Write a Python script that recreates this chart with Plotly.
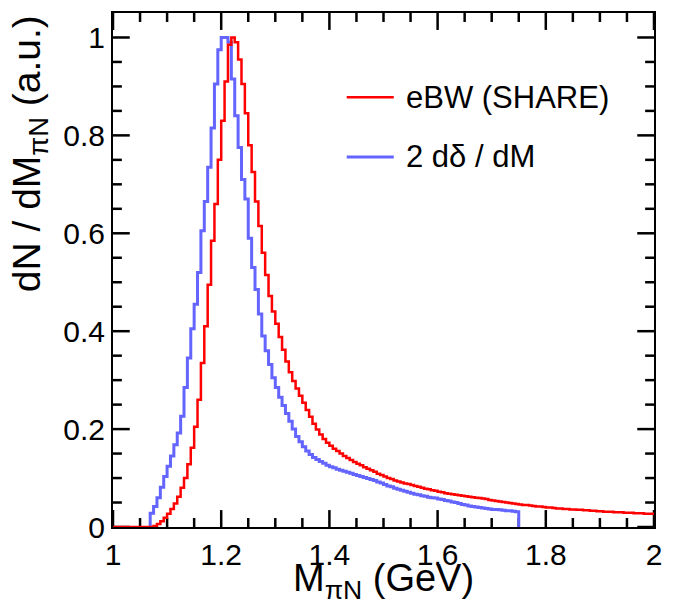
import plotly.graph_objects as go

# ---------------- data ----------------
BIN_WIDTH = 0.00625          # GeV, histogram bin width
RED_FIRST_EDGE = 1.0         # lower edge of first red bin
BLUE_FIRST_EDGE = 1.06875    # lower edge of first blue bin

red_name = "eBW (SHARE)"
blue_name = "2 d\u03b4 / dM"

red_values = [
    0, 0, 0, 0, 0, 0, 0, 0, 0, 0, 0, 0,
    0.002, 0.006, 0.012, 0.019, 0.027, 0.037, 0.048, 0.062, 0.080, 0.100,
    0.128, 0.162, 0.205, 0.26, 0.335, 0.41, 0.495, 0.585, 0.66, 0.75,
    0.83, 0.91, 0.985, 1.0, 0.99, 0.955, 0.905, 0.845, 0.78, 0.725,
    0.665, 0.615, 0.56, 0.515, 0.472, 0.440, 0.415, 0.388, 0.362, 0.338,
    0.316, 0.298, 0.283, 0.268, 0.254, 0.239, 0.225, 0.211, 0.199, 0.189,
    0.180, 0.172, 0.166, 0.160, 0.155, 0.150, 0.145, 0.141, 0.137, 0.133,
    0.129, 0.126, 0.122, 0.119, 0.116, 0.113, 0.109, 0.106, 0.103, 0.100,
    0.098, 0.095, 0.093, 0.091, 0.089, 0.088, 0.086, 0.084, 0.082, 0.080,
    0.078, 0.077, 0.075, 0.074, 0.072, 0.071, 0.069, 0.068, 0.067, 0.066,
    0.065, 0.064, 0.063, 0.062, 0.061, 0.060, 0.059, 0.058, 0.057, 0.055,
    0.054, 0.053, 0.052, 0.051, 0.050, 0.049, 0.048, 0.047, 0.046, 0.045,
    0.045, 0.044, 0.043, 0.042, 0.042, 0.041, 0.040, 0.040, 0.039, 0.038,
    0.038, 0.037, 0.037, 0.036, 0.036, 0.035, 0.035, 0.034, 0.034, 0.033,
    0.033, 0.032, 0.032, 0.031, 0.031, 0.031, 0.030, 0.030, 0.030, 0.029,
    0.029, 0.029, 0.028, 0.028, 0.028, 0.027, 0.027, 0.027,
]

blue_values = [
    0.028, 0.042, 0.060, 0.081, 0.103, 0.124, 0.145, 0.168, 0.192, 0.226,
    0.285, 0.345, 0.405, 0.455, 0.52, 0.605, 0.665, 0.735, 0.815, 0.905,
    0.975, 1.0, 1.0, 0.99, 0.915, 0.84, 0.775, 0.71, 0.67, 0.59,
    0.53, 0.485, 0.435, 0.39, 0.36, 0.332, 0.305, 0.285, 0.265, 0.248,
    0.232, 0.216, 0.200, 0.185, 0.174, 0.164, 0.155, 0.148, 0.142, 0.138,
    0.134, 0.130, 0.126, 0.123, 0.121, 0.118, 0.116, 0.114, 0.112, 0.110,
    0.107, 0.105, 0.103, 0.101, 0.099, 0.097, 0.095, 0.092, 0.090, 0.087,
    0.084, 0.082, 0.079, 0.077, 0.075, 0.073, 0.071, 0.069, 0.067, 0.066,
    0.064, 0.063, 0.061, 0.060, 0.059, 0.057, 0.056, 0.054, 0.053, 0.051,
    0.050, 0.048, 0.046, 0.045, 0.043, 0.042, 0.041, 0.040, 0.039, 0.038,
    0.037, 0.036, 0.036, 0.035, 0.034, 0.033, 0.033, 0.032, 0.031,
]

x_tick_vals = [1.0, 1.2, 1.4, 1.6, 1.8, 2.0]
x_tick_text = ["1", "1.2", "1.4", "1.6", "1.8", "2"]
y_tick_vals = [0.0, 0.2, 0.4, 0.6, 0.8, 1.0]
y_tick_text = ["0", "0.2", "0.4", "0.6", "0.8", "1"]
X_RANGE = [1.0, 2.0]
Y_RANGE = [0.0, 1.05]
MINOR_STEP = 0.05

# ---------------- layout geometry ----------------
W, H = 673, 606
M_L, M_R, M_T, M_B = 113, 11, 11, 79
PLOT_W = W - M_L - M_R
PLOT_H = H - M_T - M_B
MAJOR_LEN = 17   # px
MINOR_LEN = 9    # px

# ---------------- helpers ----------------
def histogram_outline(first_edge, values, drop_to_zero):
    edges = [first_edge + i * BIN_WIDTH for i in range(len(values) + 1)]
    xs = list(edges[:-1]) + [edges[-1]]
    ys = list(values) + [values[-1]]
    if drop_to_zero:
        xs = [edges[0]] + xs + [edges[-1]]
        ys = [0.0] + ys + [0.0]
    return xs, ys

def minor_positions(lo, hi, step, majors):
    n = int(round((hi - lo) / step))
    out = []
    for i in range(n + 1):
        v = round(lo + i * step, 6)
        if all(abs(v - m) > 1e-9 for m in majors):
            out.append(v)
    return out

def tick_segments():
    """Inside tick marks on all four sides, as one line path (data units)."""
    dx_per_px = (X_RANGE[1] - X_RANGE[0]) / PLOT_W
    dy_per_px = (Y_RANGE[1] - Y_RANGE[0]) / PLOT_H
    xs, ys = [], []
    x_minor = minor_positions(X_RANGE[0], X_RANGE[1], MINOR_STEP, x_tick_vals)
    y_minor = minor_positions(Y_RANGE[0], 1.0, MINOR_STEP, y_tick_vals)
    for vals, length in ((x_tick_vals, MAJOR_LEN), (x_minor, MINOR_LEN)):
        L = length * dy_per_px
        for v in vals:
            xs += [v, v, None, v, v, None]
            ys += [Y_RANGE[0], Y_RANGE[0] + L, None, Y_RANGE[1], Y_RANGE[1] - L, None]
    for vals, length in ((y_tick_vals, MAJOR_LEN), (y_minor, MINOR_LEN)):
        L = length * dx_per_px
        for v in vals:
            xs += [X_RANGE[0], X_RANGE[0] + L, None, X_RANGE[1], X_RANGE[1] - L, None]
            ys += [v, v, None, v, v, None]
    return xs, ys

FONT = "Liberation Sans, Arial, Helvetica, sans-serif"
RED = "#ff0000"
BLUE = "#6464ff"
RED_W = 2.5
BLUE_W = 3

bx, by = histogram_outline(BLUE_FIRST_EDGE, blue_values, True)
rx, ry = histogram_outline(RED_FIRST_EDGE, red_values, False)
tx, ty = tick_segments()

fig = go.Figure()
fig.add_trace(go.Scatter(
    x=tx, y=ty, mode="lines", line=dict(color="black", width=2.5),
    connectgaps=False, showlegend=False, hoverinfo="skip", cliponaxis=False))
fig.add_trace(go.Scatter(
    x=bx, y=by, mode="lines", line=dict(color=BLUE, width=BLUE_W, shape="hv"),
    name=blue_name, showlegend=False, hoverinfo="skip"))
fig.add_trace(go.Scatter(
    x=rx, y=ry, mode="lines", line=dict(color=RED, width=RED_W, shape="hv"),
    name=red_name, showlegend=False, hoverinfo="skip"))

axis_common = dict(
    showline=True, linecolor="black", linewidth=2, mirror=True,
    ticks="", showgrid=False, zeroline=False, tickmode="array",
    tickfont=dict(family=FONT, size=30, color="black"),
)
fig.update_xaxes(range=X_RANGE, tickvals=x_tick_vals, ticktext=x_tick_text,
                 **axis_common)
fig.update_yaxes(range=Y_RANGE, tickvals=y_tick_vals, ticktext=y_tick_text,
                 **axis_common)

# axis titles
fig.add_annotation(
    text="M<sub>\u03c0N</sub> (GeV)", xref="paper", yref="paper",
    x=0.5, y=-0.106, xanchor="center", yanchor="middle", showarrow=False,
    font=dict(family=FONT, size=38, color="black"))
fig.add_annotation(
    text="dN / dM<sub>\u03c0N</sub> (a.u.)", xref="paper", yref="paper",
    x=-0.203, y=1.0, xanchor="left", yanchor="top", textangle=-90,
    showarrow=False, font=dict(family=FONT, size=39, color="black"))

# legend (line samples + labels)
legend_entries = [(red_name, RED, RED_W, 0.836), (blue_name, BLUE, BLUE_W, 0.720)]
for label, color, w, ly in legend_entries:
    fig.add_shape(type="line", xref="paper", yref="paper",
                  x0=0.432, x1=0.519, y0=ly, y1=ly,
                  line=dict(color=color, width=w))
    fig.add_annotation(text=label, xref="paper", yref="paper",
                       x=0.537, y=ly, xanchor="left", yanchor="middle",
                       showarrow=False,
                       font=dict(family=FONT, size=31, color="black"))

fig.update_layout(
    width=W, height=H,
    margin=dict(l=M_L, r=M_R, t=M_T, b=M_B),
    paper_bgcolor="white", plot_bgcolor="white",
    showlegend=False,
)

fig.write_html("out.html")
